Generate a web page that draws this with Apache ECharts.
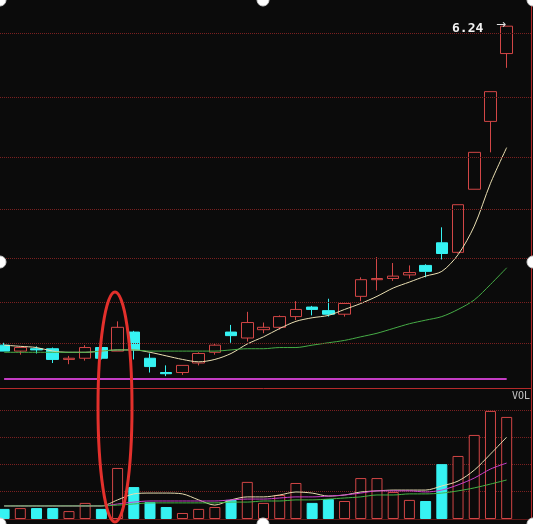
<!DOCTYPE html>
<html>
<head>
<meta charset="utf-8">
<script src="https://cdn.jsdelivr.net/npm/echarts@6/dist/echarts.min.js"></script>
<style>
    html, body { margin: 0; padding: 0; background: #0b0b0b; overflow: hidden; }
    /* first candle is cut by the left edge, so the chart starts 4px off screen */
    #chart { position: absolute; left: -4px; top: 0; width: 537px; height: 524px; }
</style>
</head>
<body>
<div id="chart"></div>
<script>
// trading days (no dates shown on the chart), last slot is empty space on the right
const days = ['01', '02', '03', '04', '05', '06', '07', '08', '09', '10', '11',
    '12', '13', '14', '15', '16', '17', '18', '19', '20', '21', '22', '23',
    '24', '25', '26', '27', '28', '29', '30', '31', '32', '']

// [open, close, low, high]
const candles = [
    [3.56, 3.51, 3.51, 3.58],
    [3.51, 3.54, 3.48, 3.54],
    [3.53, 3.52, 3.49, 3.55],
    [3.53, 3.44, 3.41, 3.54],
    [3.44, 3.45, 3.40, 3.47],
    [3.45, 3.54, 3.43, 3.56],
    [3.54, 3.45, 3.44, 3.54],
    [3.51, 3.71, 3.51, 3.76],
    [3.67, 3.52, 3.44, 3.68],
    [3.45, 3.38, 3.33, 3.49],
    [3.33, 3.32, 3.30, 3.39],
    [3.33, 3.39, 3.31, 3.39],
    [3.41, 3.49, 3.39, 3.50],
    [3.50, 3.56, 3.48, 3.57],
    [3.67, 3.64, 3.58, 3.73],
    [3.62, 3.75, 3.59, 3.84],
    [3.69, 3.71, 3.66, 3.75],
    [3.71, 3.80, 3.69, 3.81],
    [3.80, 3.86, 3.77, 3.93],
    [3.88, 3.86, 3.81, 3.89],
    [3.85, 3.82, 3.80, 3.95],
    [3.82, 3.91, 3.80, 3.92],
    [3.97, 4.11, 3.93, 4.13],
    [4.11, 4.12, 4.02, 4.30],
    [4.12, 4.14, 4.10, 4.25],
    [4.15, 4.17, 4.12, 4.23],
    [4.23, 4.18, 4.13, 4.24],
    [4.42, 4.33, 4.28, 4.55],
    [4.34, 4.74, 4.33, 4.74],
    [4.87, 5.18, 4.87, 5.18],
    [5.44, 5.69, 5.18, 5.69],
    [6.01, 6.24, 5.89, 6.24]
]

// price moving averages
const maShort = [3.56, 3.55, 3.54, 3.51, 3.50, 3.50, 3.51, 3.52, 3.52, 3.50, 3.47,
    3.44, 3.42, 3.44, 3.49, 3.57, 3.63, 3.70, 3.76, 3.79, 3.81, 3.86, 3.91,
    3.97, 4.04, 4.09, 4.14, 4.18, 4.32, 4.56, 4.92, 5.22]
const maLong = [3.50, 3.50, 3.50, 3.50, 3.50, 3.50, 3.51, 3.52, 3.52, 3.51, 3.51,
    3.51, 3.51, 3.51, 3.52, 3.53, 3.53, 3.54, 3.54, 3.56, 3.58, 3.60, 3.63,
    3.66, 3.70, 3.74, 3.77, 3.80, 3.86, 3.94, 4.07, 4.21]

// volume (arbitrary units) and its averages
const volume = [0.37, 0.40, 0.40, 0.40, 0.29, 0.59, 0.37, 1.87, 1.17, 0.62, 0.44,
    0.22, 0.37, 0.44, 0.70, 1.36, 0.59, 0.88, 1.32, 0.59, 0.73, 0.66, 1.50,
    1.50, 0.99, 0.70, 0.66, 2.01, 2.31, 3.08, 3.96, 3.74]
const volMa5 = [0.48, 0.48, 0.48, 0.48, 0.48, 0.48, 0.48, 0.70, 0.92, 0.95, 0.95,
    0.92, 0.70, 0.51, 0.70, 0.81, 0.81, 0.88, 0.99, 0.95, 0.84, 0.88, 0.99,
    1.03, 1.06, 1.06, 1.06, 1.21, 1.39, 1.79, 2.38, 3.00]
const volMa10 = [0.48, 0.48, 0.48, 0.48, 0.48, 0.48, 0.48, 0.55, 0.62, 0.66, 0.66,
    0.66, 0.66, 0.66, 0.70, 0.73, 0.73, 0.77, 0.81, 0.81, 0.84, 0.88, 0.95,
    1.03, 1.03, 1.03, 0.99, 1.06, 1.25, 1.50, 1.83, 2.05]
const volMa20 = [0.48, 0.48, 0.48, 0.48, 0.48, 0.48, 0.48, 0.51, 0.55, 0.59, 0.59,
    0.59, 0.59, 0.59, 0.62, 0.62, 0.66, 0.66, 0.70, 0.70, 0.73, 0.77, 0.81,
    0.88, 0.88, 0.92, 0.92, 0.95, 1.03, 1.14, 1.28, 1.43]

// horizontal guide lines of the price panel
const priceLevels = [6.18, 5.64, 5.14, 4.70, 4.29, 3.92, 3.58]
const purpleLevel = 3.28

const RED = '#d24646'
const CYAN = '#36f2f2'
const GRID_RED = '#7a2020'
const BG = '#0b0b0b'
const SHIFT = 4 // page x = chart x - SHIFT

const volBars = volume.map((v, i) => {
    const up = candles[i][1] > candles[i][0]
    return {
        value: v,
        itemStyle: up
            ? { color: BG, borderColor: RED, borderWidth: 1 }
            : { color: CYAN, borderColor: CYAN, borderWidth: 1 }
    }
})

const chart = echarts.init(document.getElementById('chart'))

const dot = (x, y) => ({
    type: 'circle',
    shape: { cx: x + SHIFT, cy: y, r: 6 },
    style: { fill: '#ffffff', stroke: '#cfcfcf', lineWidth: 1 },
    z: 200
})

const option = {
    animation: false,
    backgroundColor: BG,
    grid: [
        { left: 0, right: 2, top: 0, height: 388 },
        { left: 0, right: 2, top: 388, bottom: 5 }
    ],
    xAxis: [
        {
            type: 'category', data: days, boundaryGap: true,
            axisLine: { show: true, lineStyle: { color: '#b42a2a', width: 1 } },
            axisTick: { show: false }, axisLabel: { show: false }, splitLine: { show: false }
        },
        {
            type: 'category', data: days, boundaryGap: true, gridIndex: 1,
            axisLine: { show: true, lineStyle: { color: '#5e1616', width: 1 } },
            axisTick: { show: false }, axisLabel: { show: false }, splitLine: { show: false }
        }
    ],
    yAxis: [
        {
            type: 'value', min: 3.2, max: 6.46, position: 'right',
            axisLine: { show: true, lineStyle: { color: '#b42a2a' } },
            axisTick: { show: false }, axisLabel: { show: false }, splitLine: { show: false }
        },
        {
            type: 'value', min: 0, max: 4.8, interval: 1, position: 'right', gridIndex: 1,
            axisLine: { show: true, lineStyle: { color: '#b42a2a' } },
            axisTick: { show: false }, axisLabel: { show: false },
            splitLine: { show: true, lineStyle: { color: GRID_RED, type: 'dotted', width: 1 } }
        }
    ],
    series: [
        {
            name: 'K',
            type: 'candlestick',
            data: candles,
            barWidth: 12,
            itemStyle: {
                color: BG,
                color0: CYAN,
                borderColor: RED,
                borderColor0: CYAN,
                borderWidth: 1
            },
            markLine: {
                silent: true,
                symbol: ['none', 'none'],
                label: { show: false },
                lineStyle: { color: GRID_RED, type: 'dotted', width: 1 },
                data: [
                    ...priceLevels.map(v => ({ yAxis: v })),
                    [
                        { coord: [days[0], purpleLevel], lineStyle: { color: '#c43cc4', type: 'solid', width: 2 } },
                        { coord: [days[31], purpleLevel] }
                    ]
                ]
            },
            z: 3
        },
        {
            name: 'MA短',
            type: 'line',
            data: maShort,
            smooth: 0.3,
            showSymbol: false,
            lineStyle: { color: '#eadfb2', width: 1 },
            z: 4
        },
        {
            name: 'MA长',
            type: 'line',
            data: maLong,
            smooth: 0.3,
            showSymbol: false,
            lineStyle: { color: '#46ac46', width: 1 },
            z: 4
        },
        {
            name: 'VOL',
            type: 'bar',
            xAxisIndex: 1,
            yAxisIndex: 1,
            data: volBars,
            barWidth: 11
        },
        {
            name: 'MAVOL1',
            type: 'line',
            xAxisIndex: 1, yAxisIndex: 1,
            data: volMa5,
            smooth: 0.3, showSymbol: false,
            lineStyle: { color: '#e6dcb0', width: 1 }, z: 4
        },
        {
            name: 'MAVOL2',
            type: 'line',
            xAxisIndex: 1, yAxisIndex: 1,
            data: volMa10,
            smooth: 0.3, showSymbol: false,
            lineStyle: { color: '#cc40cc', width: 1 }, z: 4
        },
        {
            name: 'MAVOL3',
            type: 'line',
            xAxisIndex: 1, yAxisIndex: 1,
            data: volMa20,
            smooth: 0.3, showSymbol: false,
            lineStyle: { color: '#44b444', width: 1 }, z: 5
        }
    ],
    graphic: [
        {
            type: 'text', left: 452 + SHIFT, top: 22, z: 100,
            style: { text: '6.24', fill: '#f2f2f2', font: 'bold 13px "DejaVu Sans Mono"' }
        },
        {
            type: 'text', left: 496 + SHIFT, top: 19, z: 100,
            style: { text: '→', fill: '#e0e0e0', font: '12px "DejaVu Sans"' }
        },
        {
            type: 'text', left: 512 + SHIFT, top: 391, z: 100,
            style: { text: 'VOL', fill: '#c4c4c4', font: '10px "DejaVu Sans Mono"' }
        },
        {
            type: 'ellipse',
            shape: { cx: 115 + SHIFT, cy: 407, rx: 17, ry: 115 },
            style: { fill: 'none', stroke: '#e3302c', lineWidth: 3 },
            z: 150
        },
        dot(0, 0), dot(263, 0), dot(533, 0),
        dot(0, 262), dot(533, 262),
        dot(0, 524), dot(263, 524), dot(533, 524)
    ]
}

chart.setOption(option)
</script>
</body>
</html>
